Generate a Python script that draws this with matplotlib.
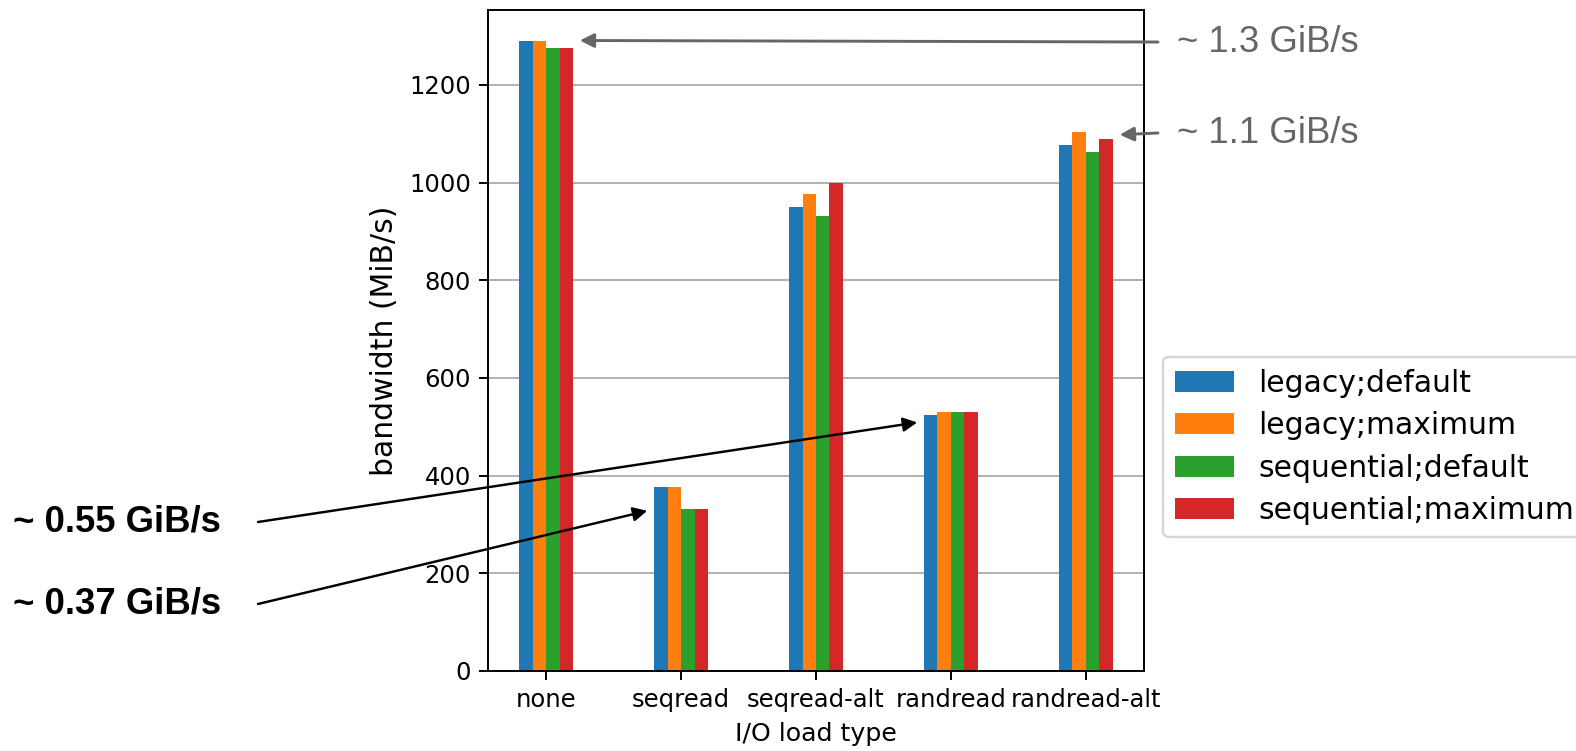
import numpy as np
import matplotlib
matplotlib.use("Agg")
import matplotlib.pyplot as plt

# bandwidth per I/O load type, MiB/s
categories = ["none", "seqread", "seqread-alt", "randread", "randread-alt"]
series_names = ["legacy;default", "legacy;maximum", "sequential;default", "sequential;maximum"]
legacy_default = [1289, 376, 951, 525, 1078]
legacy_maximum = [1289, 376, 976, 530, 1103]
sequential_default = [1275, 332, 932, 530, 1063]
sequential_maximum = [1275, 332, 1000, 530, 1089]
series_values = [legacy_default, legacy_maximum, sequential_default, sequential_maximum]
colors = ["#1f77b4", "#ff7f0e", "#2ca02c", "#d62728"]

W, H, DPI = 1576, 751, 175
fig = plt.figure(figsize=(W / DPI, H / DPI), dpi=DPI)
ax = fig.add_axes([488 / W, 1 - 671 / H, 656 / W, 661 / H])

x = np.arange(len(categories))
bw = 0.1
for i, (name, vals) in enumerate(zip(series_names, series_values)):
    ax.bar(x + (i - 1.5) * bw, vals, bw, color=colors[i], label=name, edgecolor="none")

ax.set_xlim(-0.43, 4.43)
ax.set_ylim(0, max(max(v) for v in series_values) * 1.05)
ax.set_xticks(x)
ax.set_xticklabels(categories, fontsize=10)
ax.tick_params(axis="y", labelsize=10)
ax.yaxis.grid(True, color="#b0b0b0", linewidth=0.8)
ax.set_axisbelow(True)
ax.set_xlabel("I/O load type", fontsize=10.4)
ax.set_ylabel("bandwidth (MiB/s)", fontsize=12.3)

leg = ax.legend(loc="upper left", bbox_to_anchor=(1162.7 / W, 1 - 357 / H),
                bbox_transform=fig.transFigure, borderaxespad=0, fontsize=12.3,
                labelspacing=0.45)

# annotations
gray = "#666666"
fig.text(1177 / W, 1 - 42 / H, "~ 1.3 GiB/s", color=gray, fontsize=15,
         family="Liberation Sans", va="center", ha="left")
fig.text(1177 / W, 1 - 133 / H, "~ 1.1 GiB/s", color=gray, fontsize=15,
         family="Liberation Sans", va="center", ha="left")
fig.text(13 / W, 1 - 522 / H, "~ 0.55 GiB/s", color="black", fontsize=15,
         family="Liberation Sans", weight="bold", va="center", ha="left")
fig.text(13 / W, 1 - 604 / H, "~ 0.37 GiB/s", color="black", fontsize=15,
         family="Liberation Sans", weight="bold", va="center", ha="left")

gray_arrow = dict(arrowstyle="-|>", color=gray, lw=1.2, mutation_scale=12, shrinkA=0, shrinkB=0)
black_arrow = dict(arrowstyle="-|>", color="black", lw=1.0, mutation_scale=12, shrinkA=0, shrinkB=0)
ax.annotate("", xy=(0.25, 1291), xycoords="data", xytext=(1158 / W, 1 - 42 / H),
            textcoords="figure fraction", arrowprops=gray_arrow, annotation_clip=False)
ax.annotate("", xy=(4.25, 1098), xycoords="data", xytext=(1158 / W, 1 - 133 / H),
            textcoords="figure fraction", arrowprops=gray_arrow, annotation_clip=False)
ax.annotate("", xy=(2.75, 509), xycoords="data", xytext=(258 / W, 1 - 522 / H),
            textcoords="figure fraction", arrowprops=black_arrow, annotation_clip=False)
ax.annotate("", xy=(0.75, 328), xycoords="data", xytext=(258 / W, 1 - 604 / H),
            textcoords="figure fraction", arrowprops=black_arrow, annotation_clip=False)

fig.savefig("out.png", dpi=DPI)
